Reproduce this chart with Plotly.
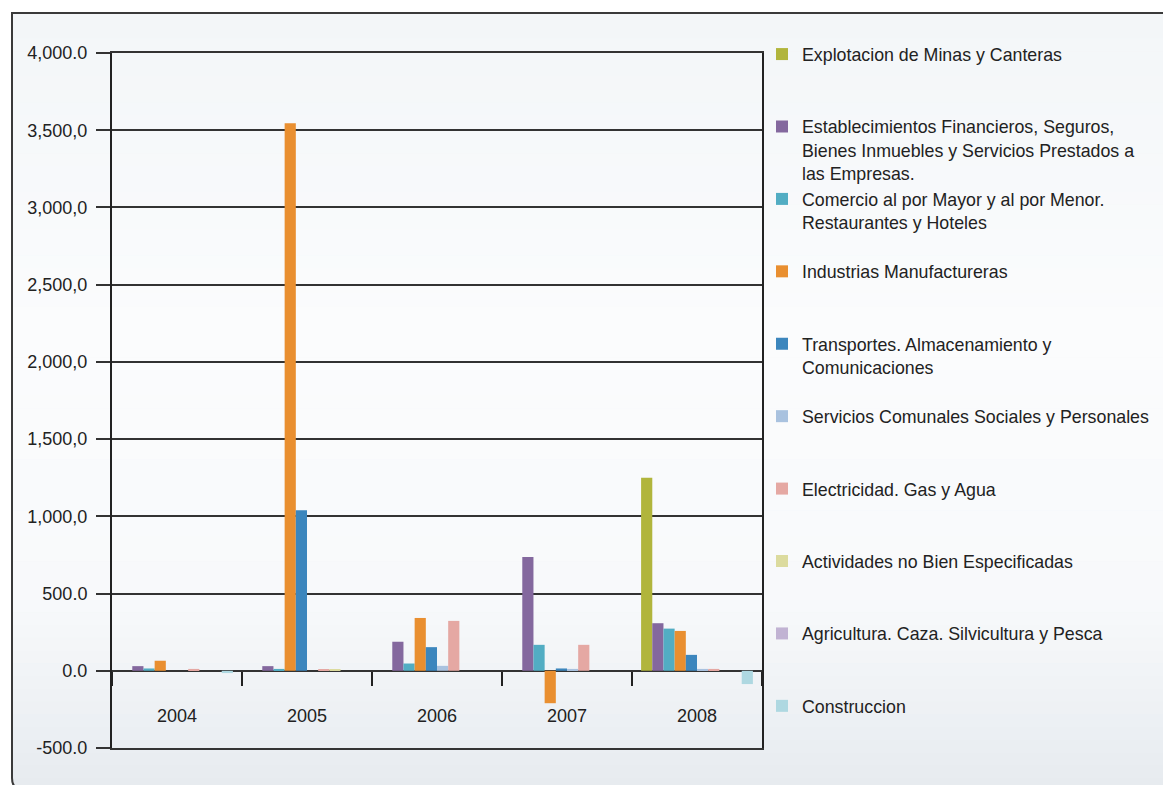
import plotly.graph_objects as go

# Anos (categorias del eje x)
anos = ['2004', '2005', '2006', '2007', '2008']

# Series por actividad economica
explotacion_minas = [0, 0, 0, 0, 1250]
establecimientos_financieros = [30, 30, 188, 737, 308]
comercio = [15, 12, 47, 168, 273]
industrias = [65, 3545, 342, -210, 258]
transportes = [0, 1040, 153, 15, 103]
servicios_comunales = [0, 0, 32, 12, 12]
electricidad = [12, 10, 323, 168, 12]
actividades_no_especificadas = [0, 8, 0, 0, 0]
agricultura = [0, 0, 0, 0, 0]
construccion = [-15, 0, 0, 0, -86]

# Ticks del eje y tal como aparecen en el original
y_tickvals = [4000, 3500, 3000, 2500, 2000, 1500, 1000, 500, 0, -500]
y_ticktext = ['4,000.0', '3,500,0', '3,000,0', '2,500,0', '2,000,0',
              '1,500,0', '1,000,0', '500.0', '0.0', '-500.0']

series = [
    ('Explotacion de Minas y Canteras', explotacion_minas, '#b1b53c'),
    ('Establecimientos Financieros, Seguros,<br>Bienes Inmuebles y Servicios Prestados a<br>las Empresas.',
     establecimientos_financieros, '#84689e'),
    ('Comercio al por Mayor y al por Menor.<br>Restaurantes y Hoteles', comercio, '#52adc3'),
    ('Industrias Manufactureras', industrias, '#e98f30'),
    ('Transportes. Almacenamiento y<br>Comunicaciones', transportes, '#3c86bd'),
    ('Servicios Comunales Sociales y Personales', servicios_comunales, '#a9c2df'),
    ('Electricidad. Gas y Agua', electricidad, '#e5a8a3'),
    ('Actividades no Bien Especificadas', actividades_no_especificadas, '#dcdb9e'),
    ('Agricultura. Caza. Silvicultura y Pesca', agricultura, '#c1b3d3'),
    ('Construccion', construccion, '#aed8e1'),
]

W, H = 1163, 785
L, R, T, B = 112, 762, 53, 748  # area del grafico en pixeles

fig = go.Figure()
for nombre, valores, color in series:
    # todas las entradas de la leyenda con 3 lineas para espaciado uniforme
    n_lineas = nombre.count('<br>') + 1
    etiqueta = nombre + '<br> ' * (3 - n_lineas)
    fig.add_trace(go.Bar(x=anos, y=valores, name=etiqueta,
                         marker=dict(color=color, line=dict(width=0))))

# traza vacia para que se dibuje el eje de anos a la altura del cero
fig.add_trace(go.Scatter(x=anos, y=[None] * len(anos), xaxis='x2', mode='markers',
                         showlegend=False, hoverinfo='skip'))


def px_x(px):
    return (px - L) / (R - L)


def px_y(py):
    return (B - py) / (B - T)


# Fondo con marco y degradado suave
shapes = []
frame_path = (f'M{px_x(12)},{px_y(13)} L{px_x(1185)},{px_y(13)} L{px_x(1185)},{px_y(790)} '
              f'L{px_x(24)},{px_y(790)} Q{px_x(12)},{px_y(790)} {px_x(12)},{px_y(778)} Z')
shapes.append(dict(type='path', xref='paper', yref='paper', path=frame_path,
                   fillcolor='#e7ebef', line=dict(width=0), layer='below'))

paradas = [(13, (243, 246, 248)), (330, (251, 252, 253)), (600, (248, 249, 251)), (778, (231, 236, 240))]
n_bandas = 60
for i in range(n_bandas):
    y0 = 13 + (778 - 13) * i / n_bandas
    y1 = 13 + (778 - 13) * (i + 1) / n_bandas
    ym = (y0 + y1) / 2
    for (a, ca), (b, cb) in zip(paradas[:-1], paradas[1:]):
        if a <= ym <= b:
            t = (ym - a) / (b - a)
            c = tuple(round(ca[k] + (cb[k] - ca[k]) * t) for k in range(3))
            break
    shapes.append(dict(type='rect', xref='paper', yref='paper',
                       x0=px_x(13), x1=px_x(1185), y0=px_y(y0), y1=px_y(y1 + 0.5),
                       fillcolor=f'rgb{c}', line=dict(width=0), layer='below'))

shapes.append(dict(type='path', xref='paper', yref='paper', path=frame_path,
                   fillcolor='rgba(0,0,0,0)', line=dict(color='#3a3a3a', width=2), layer='below'))

fig.update_layout(
    width=W, height=H,
    margin=dict(l=L, r=W - R, t=T, b=H - B, autoexpand=False),
    paper_bgcolor='white',
    plot_bgcolor='rgba(0,0,0,0)',
    font=dict(family='Liberation Sans, Arial, sans-serif', color='#222222', size=18),
    barmode='group',
    bargap=0.14,
    bargroupgap=0,
    showlegend=True,
    legend=dict(
        x=1.0, xanchor='left', y=px_y(36), yanchor='top',
        font=dict(size=17.8, color='#222222'),
        bgcolor='rgba(0,0,0,0)',
        valign='top',
        traceorder='normal',
        itemclick=False,
        maxheight=780,
    ),
    shapes=shapes,
)

fig.update_yaxes(
    range=[-500, 4000],
    tickvals=y_tickvals, ticktext=y_ticktext,
    showgrid=True, gridcolor='#333333', gridwidth=2,
    zeroline=True, zerolinecolor='#333333', zerolinewidth=2,
    ticks='outside', ticklen=14, tickwidth=2, tickcolor='#333333',
    ticklabelstandoff=5,
    showline=True, linecolor='#222222', linewidth=2, mirror=True,
    tickfont=dict(size=18),
)

# eje principal: solo las lineas superior e inferior del marco
fig.update_layout(xaxis=dict(
    type='category', categoryarray=anos,
    showline=True, mirror=True, linecolor='#333333', linewidth=2,
    showgrid=False, zeroline=False, showticklabels=False, ticks='',
))

# eje de anos con marcas entre grupos, sobre la linea del cero
fig.update_layout(xaxis2=dict(
    type='category', categoryarray=anos, overlaying='x', matches='x',
    anchor='free', position=500 / 4500,
    showgrid=False, showline=False, zeroline=False,
    ticks='outside', tickson='boundaries', ticklen=14, tickwidth=2, tickcolor='#222222',
    ticklabelstandoff=32,
    tickfont=dict(size=18),
))

# sin margen del body para que la figura ocupe la ventana completa
fig.write_html('out.html', config={'displayModeBar': False},
               post_script="document.body.style.margin='0';")
